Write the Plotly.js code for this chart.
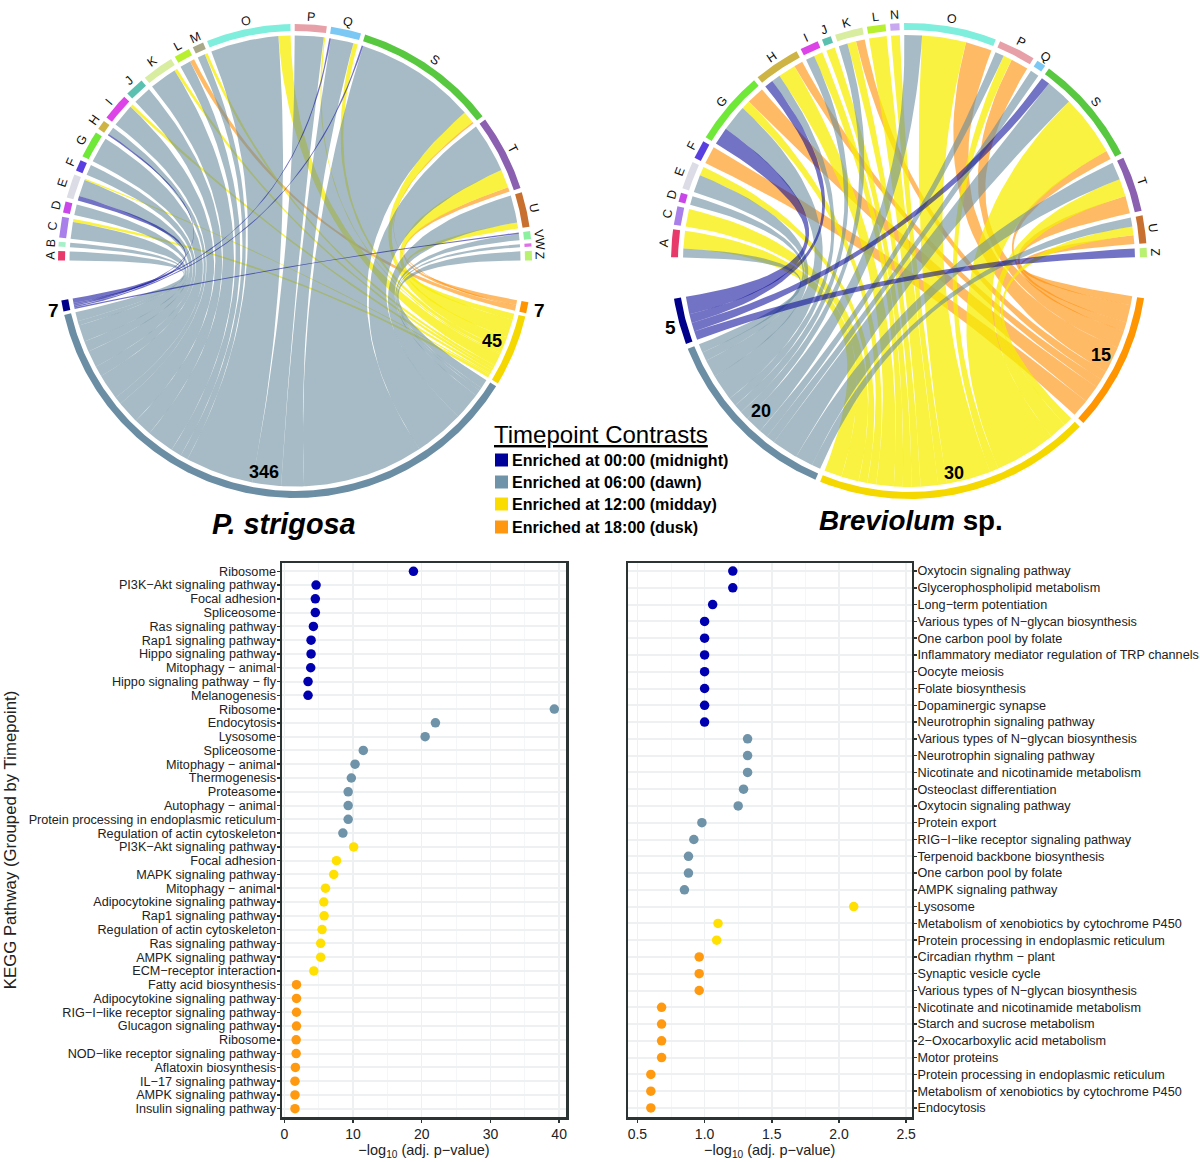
<!DOCTYPE html>
<html><head><meta charset="utf-8">
<script src="https://cdn.plot.ly/plotly-3.0.1.min.js"></script>
<style>html,body{margin:0;padding:0;background:#fff}</style></head>
<body><div id="chart" style="width:1200px;height:1162px"></div>
<script>
// ---------- Timepoints ----------
const timeNames = ['Enriched at 00:00 (midnight)','Enriched at 06:00 (dawn)','Enriched at 12:00 (midday)','Enriched at 18:00 (dusk)'];
const timeSolid = ['#00008B','#6C8EA4','#F5D800','#FF9500'];
const timeLink  = ['rgba(0,0,150,0.55)','rgba(107,142,159,0.6)','rgba(247,237,0,0.75)','rgba(255,140,0,0.6)'];
const dotColors = ['#0000B0','#6F93A8','#FFE000','#FF9A10'];

// ---------- Chord data: P. strigosa ----------
const leftCats     = ['A','B','C','D','E','F','G','H','I','J','K','L','M','O','P','Q','S','T','U','V','W','Z'];
const leftMidnight = [ 0, 0, 0, 0, 3, 0, 0, 1, 0, 0, 0, 0, 0, 0, 0, 1, 1, 0, 0, 1, 0, 0];
const leftDawn     = [ 6, 3,11, 7,11, 7,17, 5,15,12,18, 7, 5,45,19,15,80,33,18, 4, 2, 6];
const leftMidday   = [ 0, 0, 2, 0, 1, 0, 0, 0, 2, 0, 2, 0, 2, 8, 1, 3, 8,12, 4, 0, 0, 0];
const leftDusk     = [ 0, 0, 0, 0, 0, 0, 0, 0, 0, 0, 0, 3, 0, 0, 0, 0, 1, 3, 0, 0, 0, 0];
const leftTotals   = [7, 346, 45, 7];

// ---------- Chord data: Breviolum sp. ----------
const rightCats     = ['A','C','D','E','F','G','H','I','J','K','L','N','O','P','Q','S','T','U','Z'];
const rightMidnight = [0,0,0,0,0,2,1,0,0,0,0,0,0,0,0,1,0,0,1];
const rightDawn     = [1,0,1,2,0,3,1,1,0,1,0,0,2,1,1,3,2,1,0];
const rightMidday   = [2,2,0,1,0,1,2,1,1,1,2,1,5,1,0,7,2,1,0];
const rightDusk     = [0,0,0,0,2,2,1,0,0,1,0,0,3,2,0,1,2,1,0];
const rightTotals   = [5, 20, 30, 15];

const catColors = {A:'#E8396B',B:'#A5F0C8',C:'#A97FEA',D:'#C947E8',E:'#DCDCE6',F:'#5A3FE0',G:'#6FE838',H:'#CDB445',
  I:'#DD44E8',J:'#5CC0B0',K:'#D8EDA0',L:'#B8F030',M:'#A9A98A',N:'#C8A8F0',O:'#7FEEDC',P:'#E8A0A8',Q:'#7CC8F5',
  S:'#58C840',T:'#8C60B0',U:'#C87030',V:'#8CF0A0',W:'#E070E8',Z:'#B8F070'};

// ---------- Dot plot data ----------
const leftLabels = ['Ribosome','PI3K−Akt signaling pathway','Focal adhesion','Spliceosome','Ras signaling pathway','Rap1 signaling pathway','Hippo signaling pathway','Mitophagy − animal','Hippo signaling pathway − fly','Melanogenesis',
 'Ribosome','Endocytosis','Lysosome','Spliceosome','Mitophagy − animal','Thermogenesis','Proteasome','Autophagy − animal','Protein processing in endoplasmic reticulum','Regulation of actin cytoskeleton',
 'PI3K−Akt signaling pathway','Focal adhesion','MAPK signaling pathway','Mitophagy − animal','Adipocytokine signaling pathway','Rap1 signaling pathway','Regulation of actin cytoskeleton','Ras signaling pathway','AMPK signaling pathway','ECM−receptor interaction',
 'Fatty acid biosynthesis','Adipocytokine signaling pathway','RIG−I−like receptor signaling pathway','Glucagon signaling pathway','Ribosome','NOD−like receptor signaling pathway','Aflatoxin biosynthesis','IL−17 signaling pathway','AMPK signaling pathway','Insulin signaling pathway'];
const leftValMidnight = [18.8,4.63,4.52,4.52,4.24,3.9,3.9,3.85,3.46,3.46];
const leftValDawn     = [39.3,22.0,20.5,11.5,10.3,9.76,9.3,9.3,9.3,8.53];
const leftValMidday   = [10.1,7.6,7.2,6.0,5.75,5.8,5.5,5.3,5.3,4.3];
const leftValDusk     = [1.78,1.78,1.78,1.78,1.73,1.73,1.62,1.56,1.56,1.56];

const rightLabels = ['Oxytocin signaling pathway','Glycerophospholipid metabolism','Long−term potentiation','Various types of N−glycan biosynthesis','One carbon pool by folate','Inflammatory mediator regulation of TRP channels','Oocyte meiosis','Folate biosynthesis','Dopaminergic synapse','Neurotrophin signaling pathway',
 'Various types of N−glycan biosynthesis','Neurotrophin signaling pathway','Nicotinate and nicotinamide metabolism','Osteoclast differentiation','Oxytocin signaling pathway','Protein export','RIG−I−like receptor signaling pathway','Terpenoid backbone biosynthesis','One carbon pool by folate','AMPK signaling pathway',
 'Lysosome','Metabolism of xenobiotics by cytochrome P450','Protein processing in endoplasmic reticulum',
 'Circadian rhythm − plant','Synaptic vesicle cycle','Various types of N−glycan biosynthesis','Nicotinate and nicotinamide metabolism','Starch and sucrose metabolism','2−Oxocarboxylic acid metabolism','Motor proteins','Protein processing in endoplasmic reticulum','Metabolism of xenobiotics by cytochrome P450','Endocytosis'];
const rightValMidnight = [1.21,1.21,1.06,1,1,1,1,1,1,1];
const rightValDawn     = [1.32,1.32,1.32,1.29,1.25,0.98,0.92,0.88,0.88,0.85];
const rightValMidday   = [2.11,1.10,1.09];
const rightValDusk     = [0.96,0.96,0.96,0.68,0.68,0.68,0.68,0.6,0.6,0.6];

// ---------- Layout constants ----------
const W = 1200, H = 1162, FONT = '"Liberation Sans", Arial, sans-serif';
const traces = [], annotations = [];
const rad = d => d * Math.PI / 180;

function chord(c) {
  const pt = (a, r) => [c.cx + r * Math.cos(rad(a)), c.cy - r * Math.sin(rad(a))];
  const arc = (a0, a1, r) => { const n = Math.max(2, Math.ceil(Math.abs(a1 - a0) / 0.5)), o = [];
    for (let i = 0; i <= n; i++) o.push(pt(a0 + (a1 - a0) * i / n, r)); return o; };
  const bez = (p, q) => { const o = [];
    for (let i = 1; i < 30; i++) { const t = i / 30, u = 1 - t;
      o.push([u*u*p[0] + 2*u*t*c.cx + t*t*q[0], u*u*p[1] + 2*u*t*c.cy + t*t*q[1]]); } return o; };
  const poly = (pts, color) => traces.push({type:'scatter', mode:'lines', xaxis:'x3', yaxis:'y3',
    x: pts.map(p => p[0]).concat(pts[0][0]), y: pts.map(p => p[1]).concat(pts[0][1]),
    fill:'toself', fillcolor:color, line:{width:0, color:color}, hoverinfo:'skip', showlegend:false});

  // category sectors, clockwise; links inside run midnight, dawn, midday, dusk
  const seg = [[],[],[],[]];
  let cur = c.topStart;
  c.cats.forEach((name, i) => {
    const start = cur;
    c.links.forEach((arr, t) => { seg[t][i] = [cur, cur - c.k * arr[i]]; cur -= c.k * arr[i]; });
    poly(arc(start, cur, c.rOut).concat(arc(cur, start, c.rIn)), catColors[name]);
    const mid = (start + cur) / 2, lp = pt(mid, c.rLabel);
    annotations.push({xref:'x3', yref:'y3', x:lp[0], y:lp[1], text:name, showarrow:false, textangle:90 - mid,
      font:{family:FONT, size:12.5, color:'#111'}, xanchor:'center', yanchor:'middle'});
    cur -= c.topGap;
  });

  // timepoint sectors, clockwise: dusk, midday, dawn, midnight
  cur = c.botStart;
  const polys = [[],[],[],[]];
  [3,2,1,0].forEach(t => {
    const start = cur;
    for (let i = c.cats.length - 1; i >= 0; i--) {
      const v = c.links[t][i]; if (!v) continue;
      const t0 = cur, t1 = cur - c.k * v, [s0, s1] = seg[t][i];
      cur = t1;
      const pts = arc(s0, s1, c.rLink)
        .concat(bez(pt(s1, c.rLink), pt(t0, c.rLink)))
        .concat(arc(t0, t1, c.rLink))
        .concat(bez(pt(t1, c.rLink), pt(s0, c.rLink)));
      polys[t].push(pts);
    }
    poly(arc(start, cur, c.rOut).concat(arc(cur, start, c.rIn)), timeSolid[t]);
    cur -= c.botGap;
  });
  [3,2,1,0].forEach(t => polys[t].forEach(p => poly(p, timeLink[t])));
}

chord({cx:295, cy:261, rIn:230, rOut:237, rLink:225.5, rLabel:245, k:0.39,
  topStart:179.9, topGap:1.04, botStart:-10, botGap:0.82,
  cats:leftCats, links:[leftMidnight,leftDawn,leftMidday,leftDusk]});
chord({cx:909, cy:261, rIn:231, rOut:238, rLink:226, rLabel:246, k:2.26,
  topStart:179.1, topGap:1.11, botStart:-9, botGap:1.23,
  cats:rightCats, links:[rightMidnight,rightDawn,rightMidday,rightDusk]});

// ---------- Dot plots ----------
function dots(vals, xa, ya) {
  let y = 0;
  vals.forEach((v, t) => {
    const ys = v.map((_, i) => y + i); y += v.length;
    traces.push({type:'scatter', mode:'markers', xaxis:xa, yaxis:ya, x:v, y:ys, name:timeNames[t], showlegend:false,
      marker:{size:9.5, color:dotColors[t]}, cliponaxis:false});
  });
}
dots([leftValMidnight,leftValDawn,leftValMidday,leftValDusk], 'x', 'y');
dots([rightValMidnight,rightValDawn,rightValMidday,rightValDusk], 'x2', 'y2');

// ---------- Text: numbers, titles, legend ----------
const note = (x, y, text, size, extra) => annotations.push(Object.assign({xref:'x3', yref:'y3', x, y, text, showarrow:false,
  font:{family:FONT, size, color:'#000'}, xanchor:'center', yanchor:'middle'}, extra || {}));
[[53,310],[264,472],[492,341],[539,310]].forEach((p, i) => note(p[0], p[1], '<b>' + leftTotals[i] + '</b>', i === 1 || i === 2 ? 18 : 19));
[[670,327],[761,411],[954,473],[1101,355]].forEach((p, i) => note(p[0], p[1], '<b>' + rightTotals[i] + '</b>', i === 0 ? 19 : 18));
note(284, 524, '<b><i>P. strigosa</i></b>', 28.8);
note(911, 520, '<b><i>Breviolum</i> sp.</b>', 27.8);
note(492, 434, '<u>Timepoint Contrasts</u>', 24, {xanchor:'left'});
const legendY = [460, 482, 504, 527];
traces.push({type:'scatter', mode:'markers', xaxis:'x3', yaxis:'y3', x:legendY.map(() => 501.5), y:legendY, hoverinfo:'skip', showlegend:false,
  marker:{symbol:'square', size:13, color:['#00009A','#6F93A8','#FADC00','#FF9810'], line:{width:0}}});
legendY.forEach((y, i) => note(510, y, '<b>' + timeNames[i] + '</b>', 16.1, {xanchor:'left'}));

// ---------- Axes ----------
const frame = '#2B3333', grid = '#EDF1F2', gridMinor = '#F4F6F7';
const px = (a, b) => [a / W, b / W], py = (a, b) => [1 - b / H, 1 - a / H];
const xAxis = (dom, range, dtick, minor, anchor, fmt) => ({domain:px(...dom), range, anchor, dtick, tickformat:fmt, tick0:0,
  showline:true, mirror:true, linecolor:frame, linewidth:2.5, ticks:'outside', ticklen:3, tickwidth:1.5, tickcolor:frame,
  gridcolor:grid, gridwidth:1.5, zeroline:false, tickfont:{family:FONT, size:14, color:'#222'},
  minor:{dtick:minor, showgrid:true, gridcolor:gridMinor, gridwidth:1, ticks:''},
  title:{text:'−log<sub>10</sub> (adj. p−value)', font:{family:FONT, size:14.5, color:'#222'}, standoff:2}});
const yAxis = (dom, labels, top, bottom, anchor, side) => ({domain:py(...dom), anchor, side, range:[bottom, top],
  tickmode:'array', tickvals:labels.map((_, i) => i), ticktext:labels, ticklabelstandoff:-2,
  showline:true, mirror:true, linecolor:frame, linewidth:2.5, ticks:'outside', ticklen:3, tickwidth:1.5, tickcolor:frame,
  gridcolor:grid, gridwidth:2, zeroline:false, tickfont:{family:FONT, size:12.65, color:'#222'}});

const leftY = yAxis([563,1117], leftLabels, -0.6, 39.6, 'x', 'left');
leftY.title = {text:'KEGG Pathway (Grouped by Timepoint)', font:{family:FONT, size:16.8, color:'#222'}, standoff:8};

const layout = {
  width:W, height:H, margin:{l:0, r:0, t:0, b:0}, paper_bgcolor:'#fff', plot_bgcolor:'rgba(0,0,0,0)', showlegend:false,
  font:{family:FONT}, hovermode:'closest',
  xaxis: xAxis([282,566], [-0.33,41.0], 10, 5, 'y', 'd'),
  yaxis: leftY,
  xaxis2: xAxis([628,911.5], [0.43,2.54], 0.5, 0.25, 'y2', '.1f'),
  yaxis2: yAxis([563,1117], rightLabels, -0.48, 32.54, 'x2', 'right'),
  xaxis3: {domain:[0,1], range:[0,W], anchor:'y3', visible:false, fixedrange:true},
  yaxis3: {domain:[0,1], range:[H,0], anchor:'x3', visible:false, fixedrange:true},
  annotations
};
Plotly.newPlot('chart', traces, layout, {displayModeBar:false, staticPlot:true});
</script></body></html>
